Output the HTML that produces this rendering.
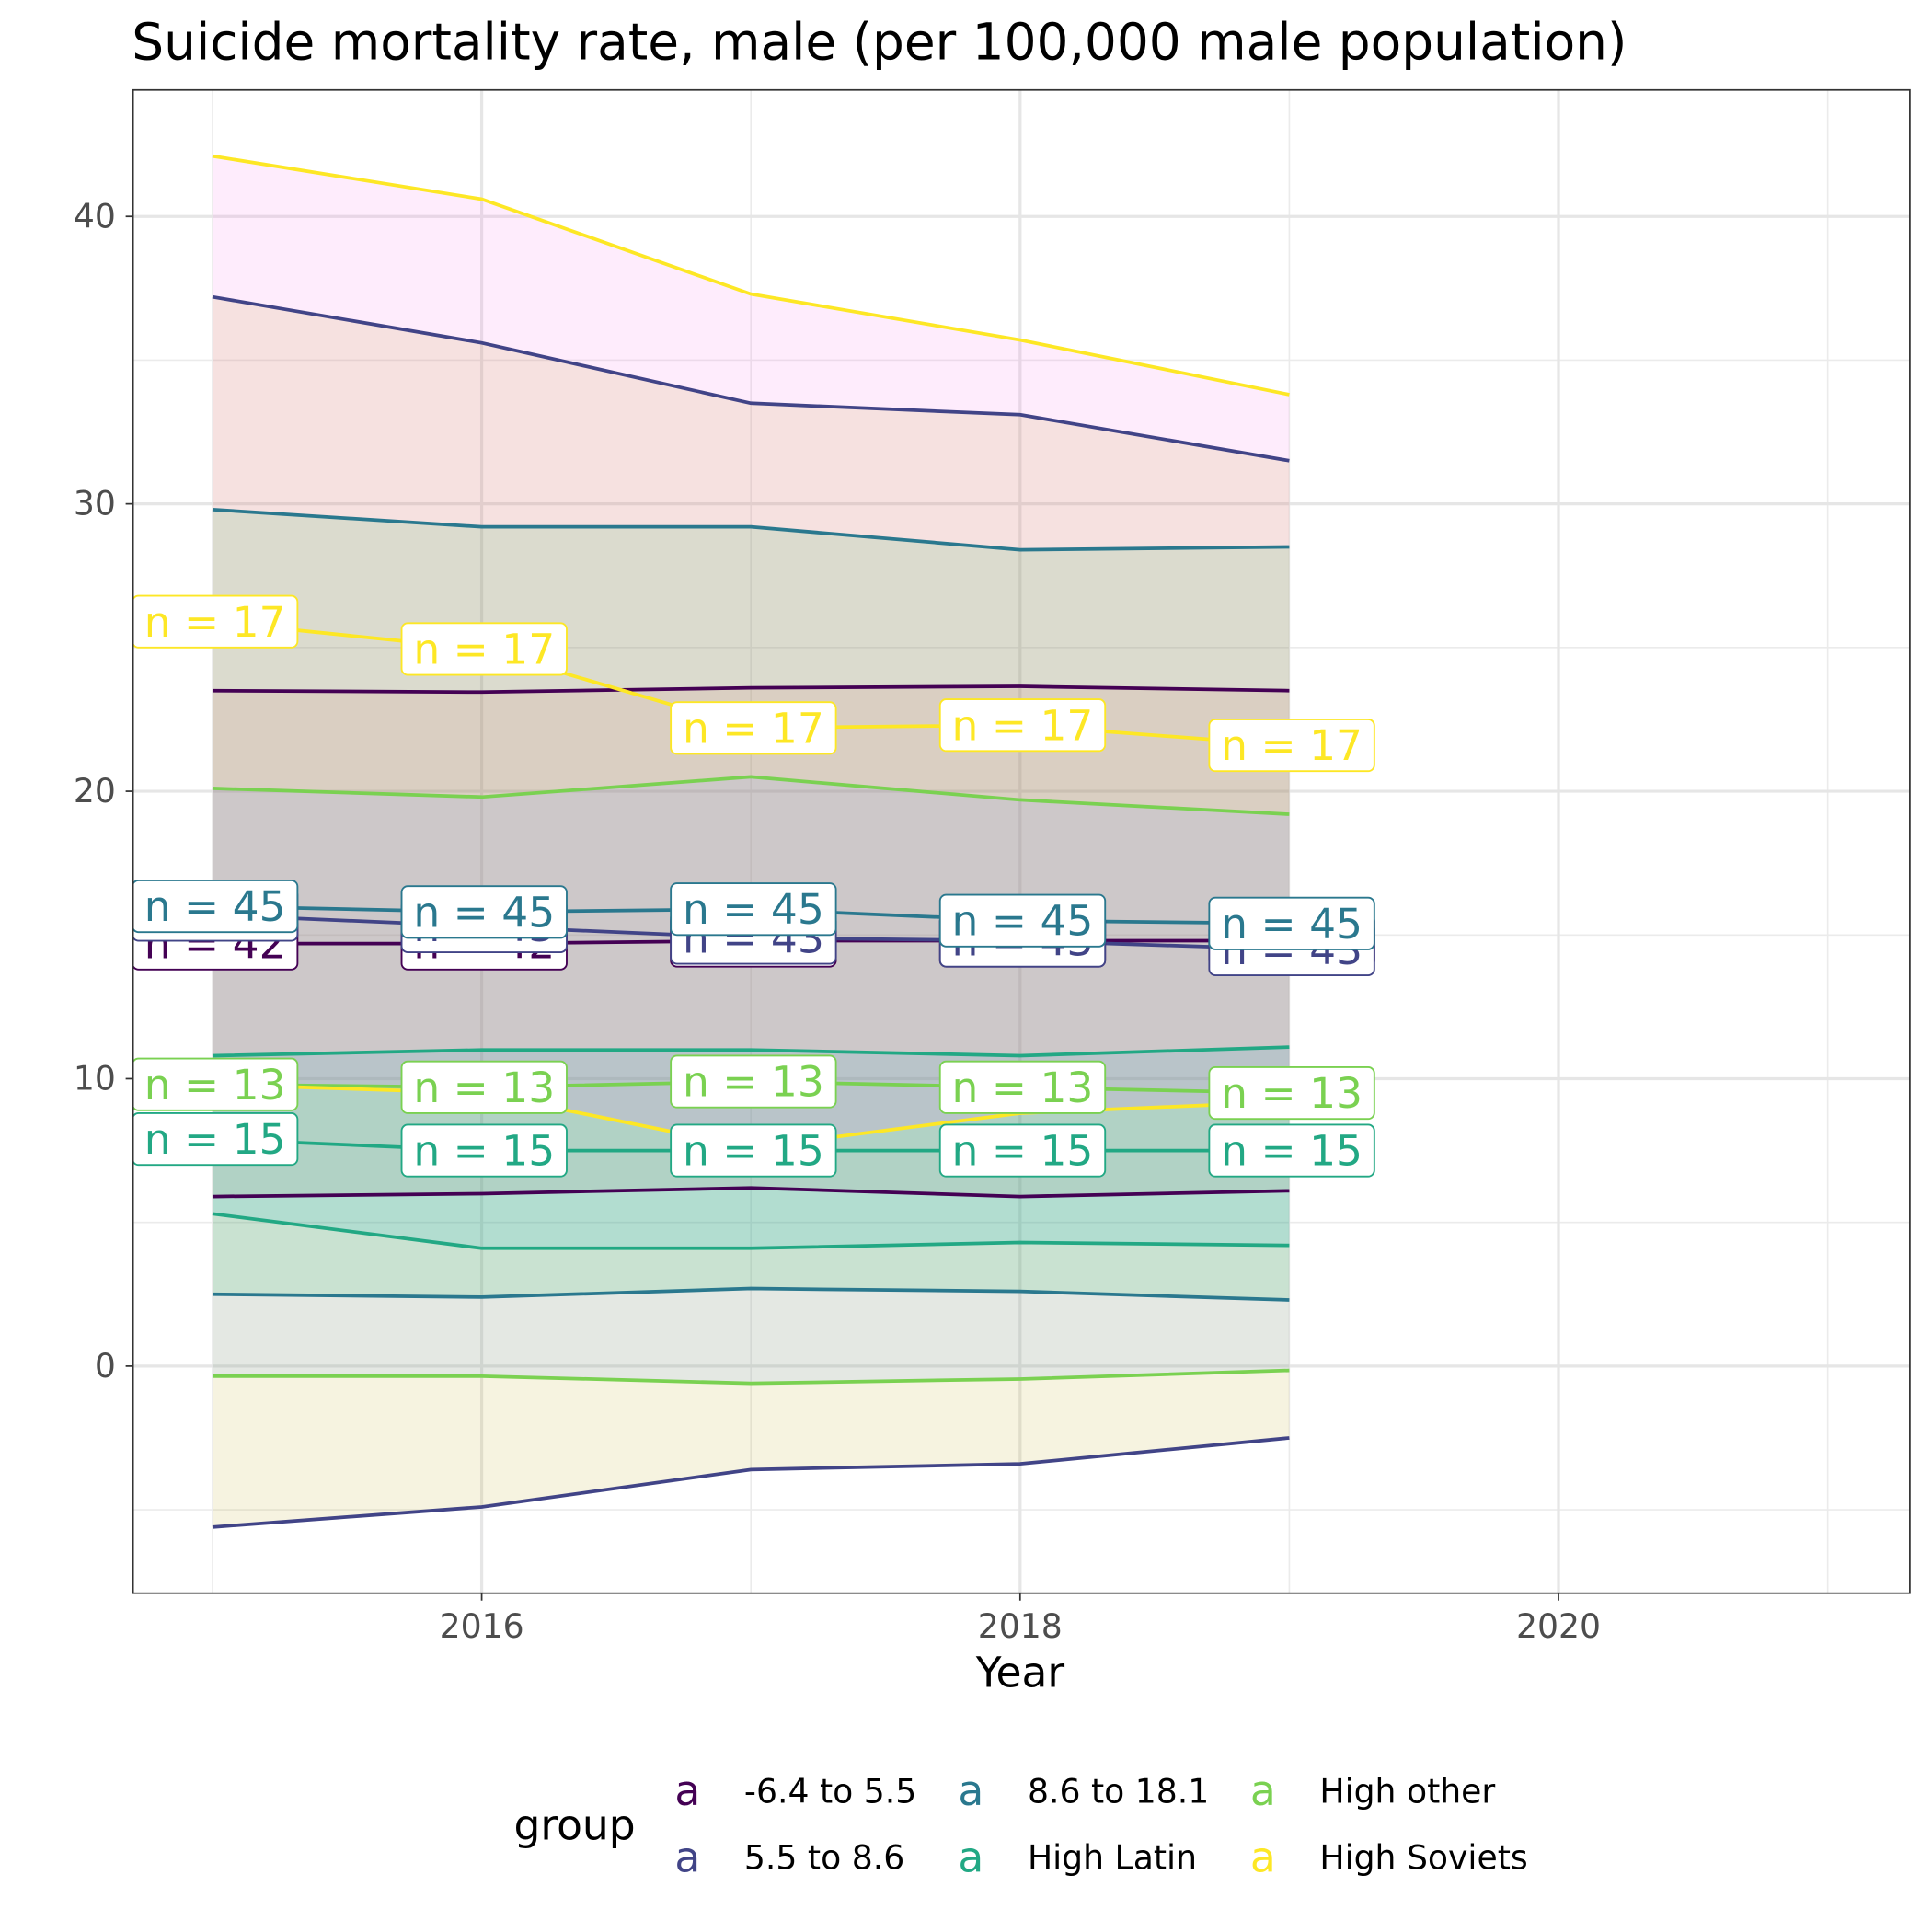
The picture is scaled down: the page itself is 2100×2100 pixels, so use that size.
<!DOCTYPE html>
<html><head><meta charset="utf-8"><style>
html,body{margin:0;padding:0;background:#fff}
svg{display:block;font-family:"DejaVu Sans","Liberation Sans",sans-serif}
</style></head><body>
<svg id="chart" width="2100" height="2100" viewBox="0 0 1568 1568" xmlns="http://www.w3.org/2000/svg">
<rect x="0" y="0" width="1568" height="1568" fill="#fff"/>
<text x="107" y="48" font-size="41" fill="#000">Suicide mortality rate, male (per 100,000 male population)</text>
<g id="grid"></g>
<g id="clip-area" clip-path="url(#pclip)">
 <g id="ribbons"></g>
 <g id="lines"></g>
 <g id="labels"></g>
</g>
<defs><clipPath id="pclip"><rect x="108" y="73" width="1442" height="1220"/></clipPath></defs>
<rect x="108" y="73" width="1442" height="1220" fill="none" stroke="#333" stroke-width="1.3"/>
<g id="axes"></g>
<text x="828" y="1369" font-size="34" text-anchor="middle" fill="#000">Year</text>
<g id="legend">
 <text x="417" y="1493" font-size="34" fill="#000">group</text>
</g>
</svg>
<script>
const years = [2015, 2016, 2017, 2018, 2019];
const groups = ["-6.4 to 5.5", "5.5 to 8.6", "8.6 to 18.1", "High Latin", "High other", "High Soviets"];
const counts = ["n = 42", "n = 43", "n = 45", "n = 15", "n = 13", "n = 17"];
const meanG1 = [14.7, 14.7, 14.8, 14.8, 14.8];
const lowG1 = [5.9, 6.0, 6.2, 5.9, 6.1];
const highG1 = [23.5, 23.45, 23.6, 23.65, 23.5];
const meanG2 = [15.7, 15.3, 14.9, 14.8, 14.5];
const lowG2 = [-5.6, -4.9, -3.6, -3.4, -2.5];
const highG2 = [37.2, 35.6, 33.5, 33.1, 31.5];
const meanG3 = [16.0, 15.8, 15.9, 15.5, 15.4];
const lowG3 = [2.5, 2.4, 2.7, 2.6, 2.3];
const highG3 = [29.8, 29.2, 29.2, 28.4, 28.5];
const meanG4 = [7.9, 7.5, 7.5, 7.5, 7.5];
const lowG4 = [5.3, 4.1, 4.1, 4.3, 4.2];
const highG4 = [10.8, 11.0, 11.0, 10.8, 11.1];
const meanG5 = [9.8, 9.7, 9.9, 9.7, 9.5];
const lowG5 = [-0.35, -0.35, -0.6, -0.45, -0.15];
const highG5 = [20.1, 19.8, 20.5, 19.7, 19.2];
const meanG6 = [25.9, 24.95, 22.2, 22.3, 21.6];
const lowG6 = [9.8, 9.5, 7.6, 8.8, 9.2];
const highG6 = [42.1, 40.6, 37.3, 35.7, 33.8];
const xTicks = [2016, 2018, 2020];
const xMinor = [2015, 2017, 2019, 2021];
const yTicks = [0, 10, 20, 30, 40];
const yMinor = [-5, 5, 15, 25, 35];

const means = [meanG1, meanG2, meanG3, meanG4, meanG5, meanG6];
const lows = [lowG1, lowG2, lowG3, lowG4, lowG5, lowG6];
const highs = [highG1, highG2, highG3, highG4, highG5, highG6];
const lineColors = ["#440154", "#414487", "#2A788E", "#22A884", "#7AD151", "#FDE725"];
const fillColors = ["#F8766D", "#B79F00", "#00BA38", "#00BFC4", "#619CFF", "#F564E3"];

const X0 = 108, X1 = 1550, Y0 = 73, Y1 = 1293;
const xMin = 2014.705, xMax = 2021.305, yMin = -7.9, yMax = 44.4;
const sx = v => X0 + (v - xMin) / (xMax - xMin) * (X1 - X0);
const sy = v => Y1 - (v - yMin) / (yMax - yMin) * (Y1 - Y0);
const NS = "http://www.w3.org/2000/svg";
function mk(tag, attrs, parent) {
  const e = document.createElementNS(NS, tag);
  for (const k in attrs) e.setAttribute(k, attrs[k]);
  parent.appendChild(e);
  return e;
}
const grid = document.getElementById('grid');
const axes = document.getElementById('axes');
xMinor.forEach(v => {
  const l = mk('line', {x1: sx(v), x2: sx(v), y1: Y0, y2: Y1, stroke: '#ebebeb', 'stroke-width': 1.2}, grid);
  
  
});
yMinor.forEach(v => {
  const l = mk('line', {x1: X0, x2: X1, y1: sy(v), y2: sy(v), stroke: '#ebebeb', 'stroke-width': 1.2}, grid);
  
  
});
xTicks.forEach(v => {
  const l = mk('line', {x1: sx(v), x2: sx(v), y1: Y0, y2: Y1, stroke: '#e6e6e6', 'stroke-width': 2.4}, grid);
  
  
  const t = mk('line', {x1: sx(v), x2: sx(v), y1: Y1, y2: Y1 + 6, stroke: '#333', 'stroke-width': 1.3}, axes);
  
  
  const tx = mk('text', {x: sx(v), y: Y1 + 36, 'font-size': 27, 'text-anchor': 'middle', fill: '#4d4d4d'}, axes);
  tx.textContent = v;
  
  
});
yTicks.forEach(v => {
  const l = mk('line', {x1: X0, x2: X1, y1: sy(v), y2: sy(v), stroke: '#e6e6e6', 'stroke-width': 2.4}, grid);
  
  
  const t = mk('line', {x1: X0 - 6, x2: X0, y1: sy(v), y2: sy(v), stroke: '#333', 'stroke-width': 1.3}, axes);
  
  
  const tx = mk('text', {x: X0 - 14, y: sy(v) + 9, 'font-size': 27, 'text-anchor': 'end', fill: '#4d4d4d'}, axes);
  tx.textContent = v;
  
  
});
const rib = document.getElementById('ribbons');
const lin = document.getElementById('lines');
const lab = document.getElementById('labels');
groups.forEach((g, i) => {
  let d = years.map((y, j) => (j ? 'L' : 'M') + sx(y) + ',' + sy(highs[i][j])).join('');
  for (let j = years.length - 1; j >= 0; j--) d += 'L' + sx(years[j]) + ',' + sy(lows[i][j]);
  const r = mk('path', {d: d + 'Z', fill: fillColors[i], 'fill-opacity': 0.12, stroke: 'none'}, rib);
  
  
});
groups.forEach((g, i) => {
  [lows[i], highs[i], means[i]].forEach((arr, k) => {
    const d = years.map((y, j) => (j ? 'L' : 'M') + sx(y) + ',' + sy(arr[j])).join('');
    const p = mk('path', {d: d, fill: 'none', stroke: lineColors[i], 'stroke-width': 2.8}, lin);
    
    
  });
});
groups.forEach((g, i) => {
  years.forEach((y, j) => {
    const cx = sx(y) + 2, cy = sy(means[i][j]);
    const gg = mk('g', {}, lab);
    
    
    mk('rect', {x: cx - 67, y: cy - 21, width: 134, height: 42, rx: 5, fill: '#fff', stroke: lineColors[i], 'stroke-width': 1.4}, gg);
    const t = mk('text', {x: cx, y: cy + 12, 'font-size': 34, 'text-anchor': 'middle', fill: lineColors[i]}, gg);
    t.textContent = counts[i];
  });
});
const leg = document.getElementById('legend');
const legPos = [[558, 1453], [558, 1507], [788, 1453], [788, 1507], [1025, 1453], [1025, 1507]];
groups.forEach((g, i) => {
  const e = mk('g', {}, leg);
  
  
  const k = mk('text', {x: legPos[i][0], y: legPos[i][1] + 12, 'font-size': 34, 'text-anchor': 'middle', fill: lineColors[i]}, e);
  k.textContent = 'a';
  const t = mk('text', {x: legPos[i][0] + 46, y: legPos[i][1] + 10, 'font-size': 27, fill: '#000'}, e);
  t.textContent = g;
});
</script>
</body></html>
